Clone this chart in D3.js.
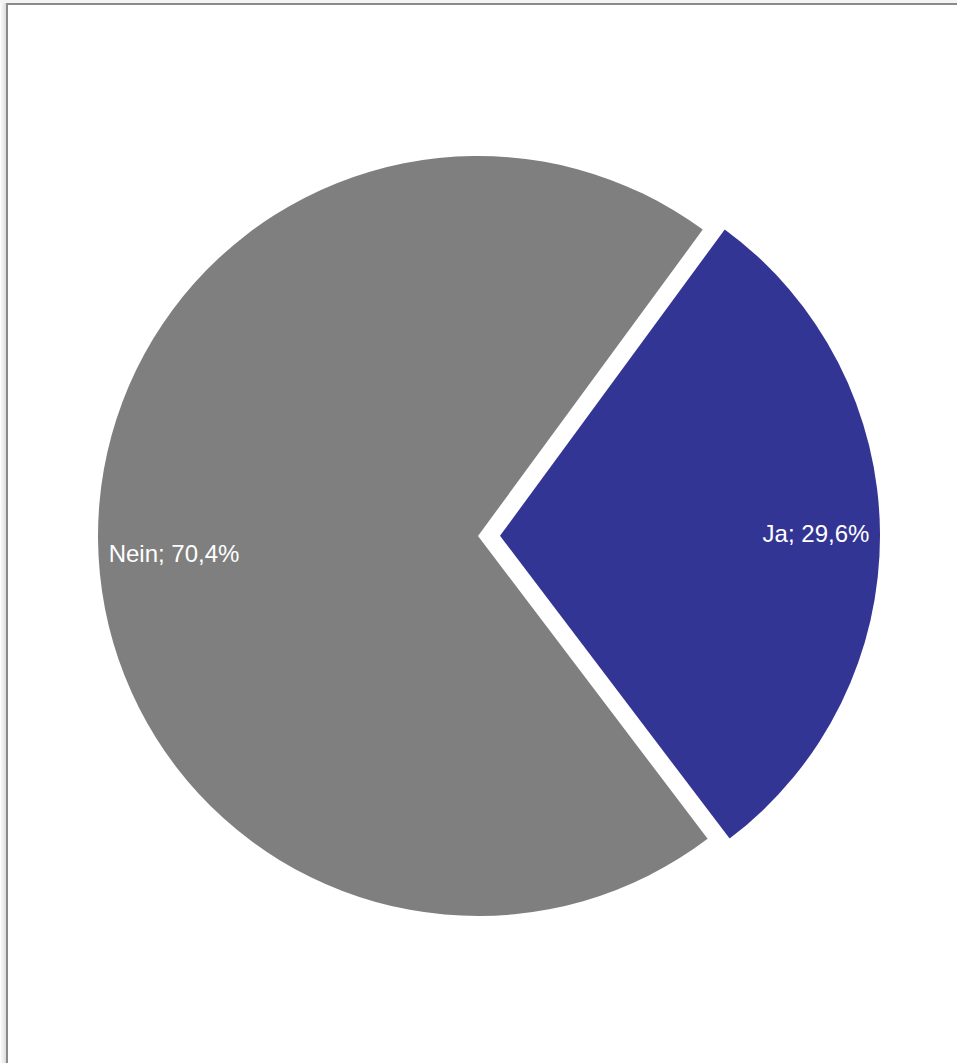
<!DOCTYPE html>
<html>
<head>
<meta charset="utf-8">
<script src="https://cdn.jsdelivr.net/npm/d3@7"></script>
<style>
  html, body { margin: 0; padding: 0; background: #fff; }
  svg { display: block; }
</style>
</head>
<body>
<svg id="chart" width="957" height="1063"></svg>
<script>
const categories = ["Ja", "Nein"];
const values = [29.6, 70.4];
const labels = ["Ja; 29,6%", "Nein; 70,4%"];
const colors = ["#333594", "#7e7f7e"];

const svg = d3.select("#chart");
const W = 957, H = 1063;

// frame with shadow
const defs = svg.append("defs");
const grad = defs.append("linearGradient").attr("id", "shadow").attr("x1", "0").attr("x2", "1");
grad.append("stop").attr("offset", "0").attr("stop-color", "#ffffff");
grad.append("stop").attr("offset", "1").attr("stop-color", "#d6d6d6");
svg.append("rect").attr("x", 0).attr("y", 0).attr("width", 7).attr("height", H).attr("fill", "url(#shadow)");
svg.append("rect").attr("x", 0).attr("y", 0).attr("width", W).attr("height", 3).attr("fill", "#f4f4f4");
svg.append("rect").attr("x", 7).attr("y", 4).attr("width", W + 10).attr("height", H + 10)
  .attr("fill", "#fff").attr("stroke", "#8a8a8a").attr("stroke-width", 2);

const cx = 478, cy = 536, R = 380, explode = 22;

const jaAngle = values[0] / d3.sum(values) * 2 * Math.PI;
const rot = -0.008;
const pie = d3.pie().sort(null).value(d => d)
  .startAngle(Math.PI / 2 - jaAngle / 2 + rot)
  .endAngle(Math.PI / 2 - jaAngle / 2 + rot + 2 * Math.PI);
const arcs = pie(values);
const arc = d3.arc().innerRadius(0).outerRadius(R);
const labelR = [316, 304];

const g = svg.append("g").attr("transform", `translate(${cx},${cy})`);

arcs.forEach((a, i) => {
  const mid = (a.startAngle + a.endAngle) / 2;
  const off = i === 0 ? explode : 0;
  const dx = off * Math.sin(mid), dy = -off * Math.cos(mid);
  const sg = g.append("g").attr("transform", `translate(${dx},${dy})`);
  sg.append("path").attr("d", arc(a)).attr("fill", colors[i]);
  const c = d3.arc().innerRadius(labelR[i]).outerRadius(labelR[i]).centroid(a);
  sg.append("text")
    .attr("x", c[0])
    .attr("y", i === 1 ? 17 : c[1])
    .attr("text-anchor", "middle")
    .attr("dominant-baseline", "central")
    .attr("fill", "#ffffff")
    .attr("font-family", "Liberation Sans, Arial, sans-serif")
    .attr("font-size", 24)
    .text(labels[i]);
});
</script>
</body>
</html>
